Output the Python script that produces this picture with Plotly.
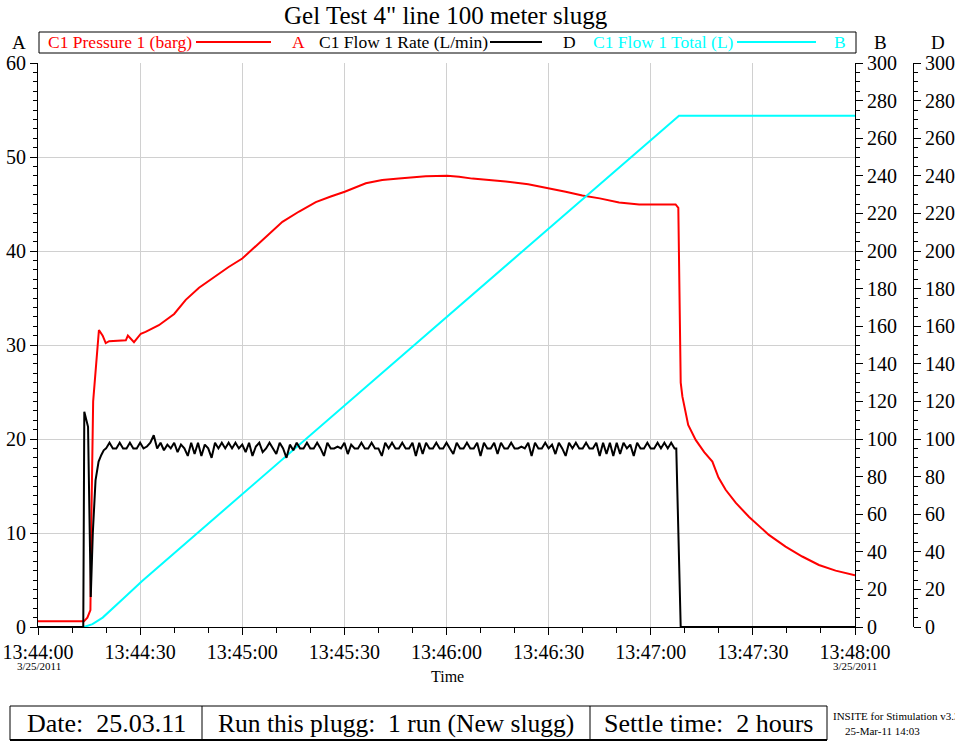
import pandas as pd
import plotly.graph_objects as go

# tid i sekunder etter 13:44:00
start = pd.Timestamp("2011-03-25 13:44:00")

trykk_t = [0, 13.5, 14.5, 15.4, 15.7, 16.2, 17.9, 19.0, 19.9, 20.9, 25.8, 26.4, 28.2, 30.2, 31.6,
           35.5, 40, 43.4, 47.3, 52, 56, 60, 64.9, 68, 71.8, 76.7, 81.6, 86, 90.1, 96.3, 101.1,
           106, 113.9, 120.2, 123.7, 127.6, 132, 137.4, 144, 150.1, 155, 159.9, 165, 170.7,
           176.6, 182, 187.3, 188.1, 188.5, 188.8, 189.3, 190.2, 191, 193.2, 195.7, 198.1,
           199.9, 202, 205, 208.9, 214.7, 219.6, 224.5, 229.4, 234.3, 240]
trykk = [0.6, 0.6, 1.0, 1.8, 12, 24, 31.6, 31.0, 30.2, 30.4, 30.5, 31.0, 30.3, 31.2, 31.4,
         32.1, 33.3, 34.8, 36.1, 37.3, 38.3, 39.2, 40.8, 41.9, 43.1, 44.2, 45.2, 45.8, 46.3,
         47.2, 47.55, 47.7, 47.95, 48.0, 47.9, 47.7, 47.6, 47.4, 47.1, 46.7, 46.3, 45.9, 45.6,
         45.15, 44.95, 44.95, 44.95, 44.6, 35, 26, 24.5, 22.8, 21.5, 19.9, 18.6, 17.6,
         15.9, 14.6, 13.2, 11.7, 9.8, 8.55, 7.5, 6.6, 6.0, 5.5]

rate_start_t = [0, 13.3, 13.6, 14.7, 15.5, 16.1, 16.9, 17.8, 18.6, 19.3]
rate_start = [0, 0, 114.5, 106.5, 16, 50, 78, 88, 91.5, 94]
# ett sample per sekund, 20 s til 187 s
rate_jevn = [
    95, 98, 95, 95, 98, 95, 95, 98, 95, 95,
    98, 95, 96, 98, 102, 95, 98, 94, 97, 95,
    98, 93, 97, 95, 91, 98, 92, 98, 91, 97,
    95, 90, 98, 95, 98, 95, 98, 95, 98, 95,
    97, 93, 98, 91, 96, 98, 93, 95, 98, 95,
    92, 98, 95, 90, 97, 94, 98, 95, 95, 98,
    95, 95, 98, 95, 91, 98, 95, 95, 96, 95,
    98, 92, 97, 95, 95, 98, 95, 95, 98, 95,
    95, 91, 98, 95, 98, 95, 95, 98, 95, 95,
    98, 91, 98, 92, 98, 95, 95, 98, 95, 95,
    98, 95, 92, 98, 95, 95, 98, 95, 95, 98,
    91, 98, 95, 95, 98, 92, 98, 95, 95, 98,
    95, 95, 96, 95, 98, 91, 98, 95, 95, 98,
    95, 97, 92, 98, 95, 91, 98, 95, 98, 95,
    95, 98, 95, 95, 98, 91, 98, 92, 98, 91,
    98, 92, 98, 95, 97, 91, 98, 95, 95, 98,
    95, 95, 98, 95, 98, 95, 98, 95]
rate_slutt_t = [187.5, 188.8, 240]
rate_slutt = [95, 0, 0]

total_t = [0, 13.5, 16, 19, 25, 30.6, 188.3, 240]
total = [0, 0, 1.5, 5, 15, 24.5, 272, 272]

fig_w, fig_h = 955, 746
ml, mt = 38, 63
mb = fig_h - 627
mr = fig_w - 913


def px(x):
    return (x - ml) / (fig_w - ml - mr)


def py(y):
    return (fig_h - mb - y) / (fig_h - mt - mb)


def tid(sek):
    return start + pd.to_timedelta(pd.Series(sek, dtype=float), unit="s")


rate_t = rate_start_t + list(range(20, 20 + len(rate_jevn))) + rate_slutt_t
rate = rate_start + rate_jevn + rate_slutt

cyan = "#00ffff"
fig = go.Figure()
fig.add_trace(go.Scatter(x=tid(total_t), y=total, mode="lines", yaxis="y2",
                         line=dict(color=cyan, width=2), name="C1 Flow 1 Total (L)"))
fig.add_trace(go.Scatter(x=tid(rate_t), y=rate, mode="lines", yaxis="y3",
                         line=dict(color="black", width=2), name="C1 Flow 1 Rate (L/min)"))
fig.add_trace(go.Scatter(x=tid(trykk_t), y=trykk, mode="lines", yaxis="y",
                         line=dict(color="#ff0000", width=2), name="C1 Pressure 1 (barg)"))

font = "Liberation Serif"
akse = dict(showline=True, linecolor="black", linewidth=1, ticks="outside", ticklen=7,
            tickcolor="black", tickfont=dict(size=20, color="black"), zeroline=False,
            automargin=False, ticklabeloverflow="allow")
x_end = px(855)

fig.update_layout(
    width=fig_w, height=fig_h, showlegend=False,
    margin=dict(l=ml, r=mr, t=mt, b=mb),
    plot_bgcolor="white", paper_bgcolor="white",
    font=dict(family=font, color="black"),
    xaxis=dict(akse, type="date", domain=[0, x_end],
               range=[start, start + pd.Timedelta(seconds=240)],
               tick0=start, dtick=30000, tickformat="%H:%M:%S",
               showgrid=True, gridcolor="#d0d0d0", gridwidth=1,
               minor=dict(dtick=10000, ticks="outside", ticklen=5, tickcolor="black", showgrid=False)),
    yaxis=dict(akse, range=[0, 60], dtick=10, showgrid=True, gridcolor="#d0d0d0",
               minor=dict(dtick=1, ticks="outside", ticklen=4, tickcolor="black", showgrid=False)),
    yaxis2=dict(akse, range=[0, 300], dtick=20, overlaying="y", side="right", anchor="x",
                showgrid=False,
                minor=dict(dtick=5, ticks="outside", ticklen=4, tickcolor="black", showgrid=False)),
    yaxis3=dict(akse, range=[0, 300], dtick=20, overlaying="y", side="right", anchor="free",
                position=1, showgrid=False,
                minor=dict(dtick=5, ticks="outside", ticklen=4, tickcolor="black", showgrid=False)),
)

shapes = []
anns = []


def tekst(x, y, t, size, color="black", anchor="center"):
    anns.append(dict(x=px(x), y=py(y), xref="paper", yref="paper", text=t, showarrow=False,
                     xanchor=anchor, yanchor="middle", font=dict(size=size, color=color, family=font)))


def linje(x0, y0, x1, y1, color="black", width=1):
    shapes.append(dict(type="line", xref="paper", yref="paper", x0=px(x0), y0=py(y0),
                       x1=px(x1), y1=py(y1), line=dict(color=color, width=width)))


tekst(446, 15, 'Gel Test 4" line 100 meter slugg', 25)

# legendeboks
shapes.append(dict(type="rect", xref="paper", yref="paper", x0=px(39), x1=px(856),
                   y0=py(32), y1=py(53), line=dict(color="black", width=1)))
tekst(46, 42, "C1 Pressure 1 (barg)", 17.5, "#ff0000", "left")
linje(196, 42, 271, 42, "#ff0000", 2)
tekst(298, 42, "A", 17.5, "#ff0000")
tekst(317, 42, "C1 Flow 1 Rate (L/min)", 17.5, "black", "left")
linje(490, 42, 542, 42, "black", 2)
tekst(569, 42, "D", 17.5, "black")
tekst(591, 42, "C1 Flow 1 Total (L)", 17.5, cyan, "left")
linje(737, 42, 816, 42, cyan, 2)
tekst(840, 42, "B", 17.5, cyan)

tekst(19, 42, "A", 19)
tekst(880, 42, "B", 19)
tekst(938, 42, "D", 19)

tekst(39, 666, "3/25/2011", 11)
tekst(855, 666, "3/25/2011", 11)
tekst(447, 676, "Time", 16)

# bunntabell
shapes.append(dict(type="rect", xref="paper", yref="paper", x0=px(10), x1=px(827),
                   y0=py(706), y1=py(740), line=dict(color="black", width=1)))
linje(10, 740, 827, 740, "black", 2)
linje(202, 706, 202, 740)
linje(590, 706, 590, 740)
tekst(106, 723, "Date:\u00a0 25.03.11", 26)
tekst(396, 723, "Run this plugg:\u00a0 1 run (New slugg)", 25.5)
tekst(708, 723, "Settle time:\u00a0 2 hours", 26)
tekst(831, 716, "INSITE for Stimulation v3.3", 11, "black", "left")
tekst(882, 731, "25-Mar-11 14:03", 11)

fig.update_layout(shapes=shapes, annotations=anns)
# siden skal ikke ha standardmargen på 8 px
fig.write_html("out.html", config={"displayModeBar": False},
               post_script="document.body.style.margin='0';")
